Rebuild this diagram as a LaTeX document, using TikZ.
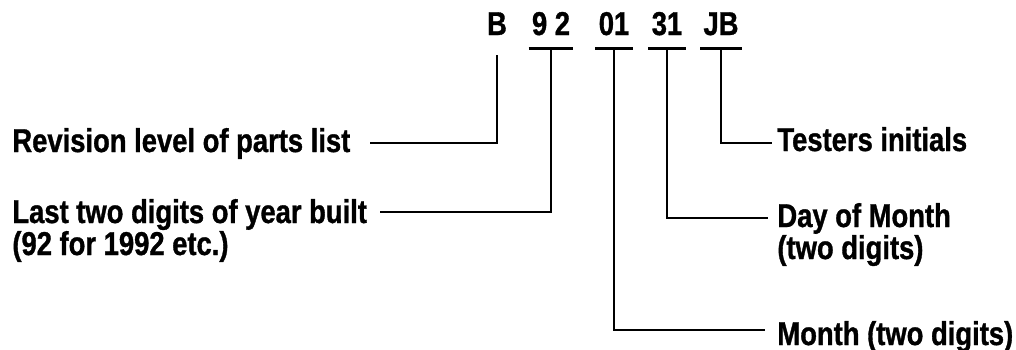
\documentclass[tikz,border=0pt]{standalone}
\usepackage{fontspec}
\setmainfont{Liberation Sans}[FakeStretch=0.83,FakeBold=1]

\tikzset{
  code/.style={inner sep=0pt, inner xsep=1.5pt, anchor=base, text depth=0pt,
    font=\bfseries\fontsize{16.5}{16.5}\selectfont},
  tag/.style={inner sep=0pt, anchor=base west,
    font=\bfseries\fontsize{16.5}{16.5}\selectfont},
  wire/.style={line width=1.4pt}
}

\begin{document}
\begin{tikzpicture}[x=0.5pt,y=-0.5pt]
    \useasboundingbox (0,0) rectangle (1016,349);
    % serial number
    \node[code] (rev) at (497,35) {B};
    \node[code] (yr)  at (551,35) {9 2};
    \node[code] (mon) at (614,35) {01};
    \node[code] (day) at (667,35) {31};
    \node[code] (ini) at (721,35) {JB};
    % labels
    \node[tag] (revtxt) at (12,152) {Revision level of parts list};
    \node[tag] (yrtxt)  at (12,223) {Last two digits of year built};
    \node[tag] (yrsub)  at (12,255) {(92 for 1992 etc.)};
    \node[tag] (initxt) at (777,151) {Testers initials};
    \node[tag] (daytxt) at (777,227) {Day of Month};
    \node[tag] (daysub) at (777,259) {(two digits)};
    \node[tag] (montxt) at (777,345) {Month (two digits)};
    \coordinate (revend) at (370,143);
    \coordinate (yrend)  at (380,212);
    \coordinate (iniend) at (772,143);
    \coordinate (dayend) at (768,218);
    \coordinate (monend) at (765,330);
    % bars under the digits
    \foreach \n in {yr,mon,day,ini}
      \draw[wire] ([yshift=-6.5pt]\n.south west) -- ([yshift=-6.5pt]\n.south east);
    \draw[wire] ([yshift=-10pt]rev.south) |- (revend);
    \draw[wire] ([yshift=-6.5pt]yr.south) |- (yrend);
    \draw[wire] ([yshift=-6.5pt]mon.south) |- (monend);
    \draw[wire] ([yshift=-6.5pt]day.south) |- (dayend);
    \draw[wire] ([yshift=-6.5pt]ini.south) |- (iniend);
\end{tikzpicture}
\end{document}
